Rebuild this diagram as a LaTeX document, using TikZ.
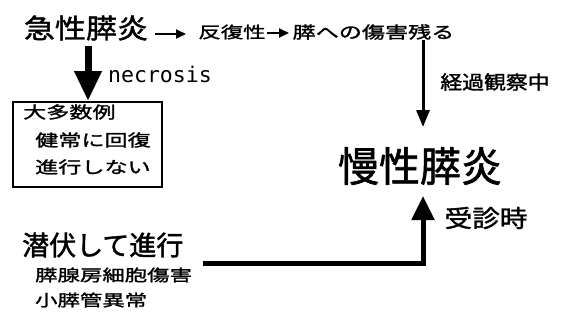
\documentclass[tikz,border=0pt]{standalone}
\usepackage{fontspec}
\usetikzlibrary{arrows.meta}
\newfontfamily\jpw[FakeStretch=1.4,FakeBold=1.5]{Noto Sans CJK JP}
\newfontfamily\jpm[FakeStretch=1.15,FakeBold=1.5]{Noto Sans CJK JP}
\newfontfamily\jpn[FakeBold=1.5]{Noto Sans CJK JP}
\newfontfamily\monof{DejaVu Sans Mono}
\newcommand{\fs}[1]{\fontsize{#1}{#1}\selectfont}
\tikzset{
  lbl/.style={inner sep=0pt, text=black},
  thinarrow/.style={line width=2pt, -{Triangle[width=9pt,length=10pt]}},
  midarrow/.style={line width=3pt, -{Triangle[width=13pt,length=17pt]}},
  bigarrow/.style={line width=7pt, -{Triangle[width=26pt,length=30pt]}},
  uparrow/.style={line width=5pt, -{Triangle[width=22pt,length=24pt]}},
  boxst/.style={draw, line width=1.2pt, minimum width=149pt, minimum height=85pt, inner sep=0pt}
}
\begin{document}
\begin{tikzpicture}[x=1pt,y=-1pt]
\useasboundingbox (0,0) rectangle (569,322);
% top row
\node[lbl] (acute) at (86,28) {\jpm\fs{27}急性膵炎};
\node[lbl] (rep) at (232,32) {\jpw\fs{16}反復性};
\node[lbl] (dmg) at (373.5,32) {\jpw\fs{16.5}膵への傷害残る};
\coordinate (a1s) at (155,34);
\coordinate (a1e) at (186,34);
\draw[thinarrow] (a1s) -- (a1e);
\coordinate (a2s) at (267,33);
\coordinate (a2e) at (289,33);
\draw[thinarrow] (a2s) -- (a2e);
% observation arrow
\node[lbl] (chronic) at (420,166) {\jpn\fs{41}慢性膵炎};
\draw[midarrow] (423,40) -- (423,127);
\node[lbl] (obs) at (495,82) {\jpm\fs{19}経過観察中};
% necrosis
\node[boxst] (box) at (87.5,144.5) {};
\draw[bigarrow] (88,46) -- (88,101);
\node[lbl] (necro) at (160,74) {\monof\fs{21.5}necrosis};
\node[lbl, anchor=west] (b1) at (23,112) {\jpw\fs{16.5}大多数例};
\node[lbl, anchor=west] (b2) at (35,140) {\jpw\fs{16.5}健常に回復};
\node[lbl, anchor=west] (b3) at (35,167) {\jpw\fs{16.5}進行しない};
% latent
\node[lbl, anchor=west] (lat) at (22,245) {\jpn\fs{27}潜伏して進行};
\node[lbl, anchor=west] (l1) at (35,275) {\jpw\fs{16}膵腺房細胞傷害};
\node[lbl, anchor=west] (l2) at (35,300) {\jpw\fs{16}小膵管異常};
\coordinate (corner) at (423,263);
\draw[uparrow] (203,263) -- (corner) -- (423,196);
\node[lbl] (visit) at (486,218) {\jpm\fs{24}受診時};
\end{tikzpicture}
\end{document}
